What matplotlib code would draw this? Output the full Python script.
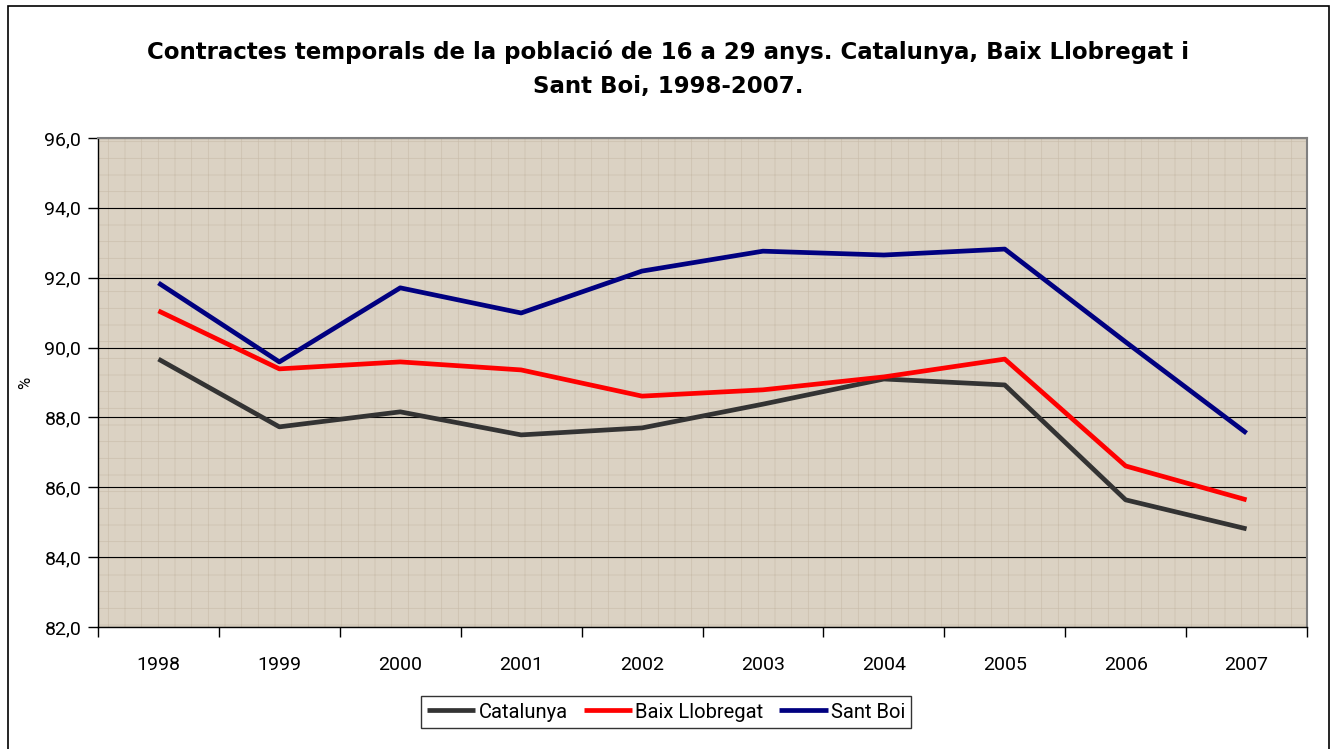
import matplotlib
matplotlib.use("Agg")
import matplotlib.pyplot as plt
from matplotlib.patches import Rectangle
from matplotlib.ticker import FixedLocator, NullFormatter

years = ["1998", "1999", "2000", "2001", "2002", "2003", "2004", "2005", "2006", "2007"]
catalunya = [89.67, 87.73, 88.16, 87.50, 87.70, 88.38, 89.10, 88.93, 85.64, 84.81]
baix_llobregat = [91.05, 89.39, 89.59, 89.36, 88.61, 88.79, 89.16, 89.67, 86.61, 85.64]
sant_boi = [91.85, 89.59, 91.71, 90.99, 92.19, 92.76, 92.65, 92.82, 90.16, 87.55]
series_names = ["Catalunya", "Baix Llobregat", "Sant Boi"]
yticks = [82, 84, 86, 88, 90, 92, 94, 96]

plt.rcParams['font.family'] = ['Roboto', 'DejaVu Sans']
plt.rcParams['hatch.linewidth'] = 0.5
plt.rcParams['hatch.color'] = '#cbbfad'

fig = plt.figure(figsize=(13.32, 7.49), dpi=100)
fig.patches.append(Rectangle((8/1332, -0.01), 1321/1332, 1 - 6/749 + 0.01,
                             transform=fig.transFigure, fill=False,
                             edgecolor='black', linewidth=1.2))
ax = fig.add_axes([98/1332, 1 - 627/749, (1307-98)/1332, (627-138)/749])
ax.set_facecolor('#dbd2c3')
ax.add_patch(Rectangle((0, 0), 1, 1, transform=ax.transAxes, facecolor='none',
                       edgecolor='#cbbfad', linewidth=0, hatch='+', zorder=0.5))

x = list(range(len(years)))
colors = ['#333333', '#ff0000', '#000080']
for vals, name, c in zip([catalunya, baix_llobregat, sant_boi], series_names, colors):
    ax.plot(x, vals, color=c, linewidth=3.4, label=name, solid_capstyle='butt', zorder=3)

ax.set_xlim(-0.5, len(years) - 0.5)
ax.set_ylim(82, 96)
ax.set_yticks(yticks)
ax.set_yticklabels([f"{v:.1f}".replace('.', ',') for v in yticks], fontsize=14)
ax.yaxis.grid(True, color='black', linewidth=0.8, zorder=1)
ax.set_axisbelow(True)

ax.xaxis.set_major_locator(FixedLocator([i - 0.5 for i in range(len(years) + 1)]))
ax.xaxis.set_major_formatter(NullFormatter())
ax.xaxis.set_minor_locator(FixedLocator(x))
ax.set_xticklabels(years, minor=True, fontsize=14)
ax.tick_params(axis='x', which='major', length=7, width=1, direction='out')
ax.tick_params(axis='x', which='minor', length=0, pad=21)
ax.tick_params(axis='y', length=7, width=1, direction='out', pad=5)

for s in ['top', 'right']:
    ax.spines[s].set_color('#808080')
    ax.spines[s].set_linewidth(1.5)
for s in ['left', 'bottom']:
    ax.spines[s].set_color('black')
    ax.spines[s].set_linewidth(1)

ax.set_ylabel('%', fontsize=12, labelpad=8)

fig.text(668/1332, 1 - 69/749,
         "Contractes temporals de la població de 16 a 29 anys. Catalunya, Baix Llobregat i\nSant Boi, 1998-2007.",
         ha='center', va='center', fontsize=16.5, fontweight='bold', linespacing=1.6,
         family=['DejaVu Sans'])

leg = fig.legend(loc='center', bbox_to_anchor=(666/1332, 1 - 712/749), ncol=3,
                 fontsize=14.5, frameon=True, fancybox=False, edgecolor='black',
                 handlelength=2.4, handletextpad=0.15, columnspacing=0.8,
                 borderpad=0.3)
leg.get_frame().set_linewidth(1)

fig.savefig('out.png', dpi=100)
